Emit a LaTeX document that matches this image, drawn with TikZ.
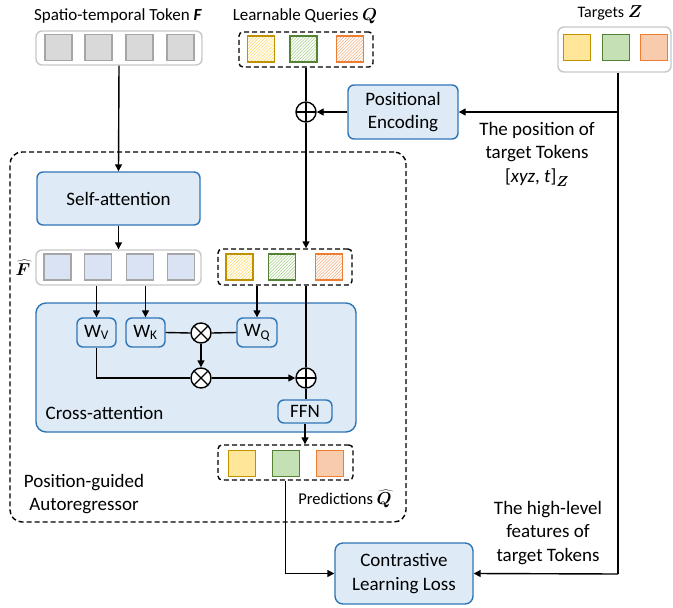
\documentclass[tikz,border=0pt]{standalone}
\usepackage{fontspec}
\setmainfont{Carlito}
\usepackage{bm}
\usetikzlibrary{arrows.meta,patterns.meta}

\definecolor{bdark}{RGB}{46,117,182}
\definecolor{blight}{RGB}{222,235,247}
\definecolor{hold}{RGB}{200,200,200}
\definecolor{tgray}{RGB}{166,166,166}
\definecolor{tfill}{RGB}{217,217,217}
\definecolor{tblue}{RGB}{218,227,243}
\definecolor{ydark}{RGB}{191,144,0}
\definecolor{ylight}{RGB}{255,230,153}
\definecolor{yhatch}{RGB}{255,217,102}
\definecolor{gdark}{RGB}{84,130,53}
\definecolor{glight}{RGB}{197,224,180}
\definecolor{ghatch}{RGB}{169,209,142}
\definecolor{odark}{RGB}{237,125,49}
\definecolor{olight}{RGB}{248,203,173}
\definecolor{ohatch}{RGB}{244,177,131}

\begin{document}
\begin{tikzpicture}[x=1pt,y=-1pt,line width=1.4pt,
  big/.style={font=\fontsize{19}{23.5}\selectfont},
  txt/.style={big, inner sep=0pt, align=center},
  toplbl/.style={font=\fontsize{17}{21}\selectfont, inner sep=0pt},
  bluebox/.style={draw=bdark, fill=blight, rounded corners=6pt, align=center,
    big, inner sep=0pt},
  holder/.style={draw=hold, fill=white, rounded corners=6pt, inner sep=0pt},
  dbox/.style={draw=black, dash pattern=on 5pt off 3pt, rounded corners=4pt, inner sep=0pt},
  tok/.style={minimum width=27pt, minimum height=26pt, inner sep=0pt},
  gtok/.style={tok, draw=tgray, fill=tfill},
  btok/.style={tok, draw=tgray, fill=tblue},
  ytok/.style={tok, draw=ydark, fill=ylight},
  gntok/.style={tok, draw=gdark, fill=glight},
  otok/.style={tok, draw=odark, fill=olight},
  hatch/.style={pattern={Lines[angle=45,distance=2.2pt,line width=0.6pt]}, pattern color=#1},
  yhtok/.style={tok, draw=ydark, hatch=yhatch},
  ghtok/.style={tok, draw=gdark, hatch=ghatch},
  ohtok/.style={tok, draw=odark, hatch=ohatch},
  arr/.style={-{Triangle[length=7pt,width=7pt]}},
  op/.style={circle, draw, fill=white, minimum size=20pt, inner sep=0pt},
  plusop/.style={op, path picture={
    \draw (path picture bounding box.north) -- (path picture bounding box.south);
    \draw (path picture bounding box.west) -- (path picture bounding box.east);}},
  timesop/.style={op, path picture={
    \draw ([shift={(45:10pt)}]path picture bounding box.center) -- ([shift={(225:10pt)}]path picture bounding box.center);
    \draw ([shift={(135:10pt)}]path picture bounding box.center) -- ([shift={(315:10pt)}]path picture bounding box.center);}}
]
\useasboundingbox (0,0) rectangle (673,608);

% ---- outer autoregressor frame ----
\node[dbox, rounded corners=12pt, minimum width=396pt, minimum height=370pt] (pga) at (208,337) {};

% ---- input tokens F ----
\node[toplbl] (flab) at (118,16) {Spatio-temporal Token \textbf{\textit{F}}};
\node[holder, minimum width=166pt, minimum height=34pt] (fbox) at (119,48) {};
\node[gtok] (f1) at (58.5,47.5) {};
\node[gtok] (f2) at (98.5,47.5) {};
\node[gtok] (f3) at (139.5,47.5) {};
\node[gtok] (f4) at (180.5,47.5) {};

% ---- learnable queries Q ----
\node[toplbl] (qlab) at (305,16) {Learnable Queries $\bm{Q}$};
\node[dbox, minimum width=134pt, minimum height=35pt] (qbox) at (306,49.5) {};
\node[yhtok] (q1) at (261,49) {};
\node[ghtok] (q2) at (303.5,49) {};
\node[ohtok] (q3) at (350,49) {};

% ---- targets Z ----
\node[toplbl, font=\fontsize{16}{19}\selectfont] (zlab) at (610,13) {Targets $\bm{Z}$};
\node[holder, minimum width=113pt, minimum height=45pt] (zbox) at (614.5,49.5) {};
\node[ytok] (z1) at (577,47.5) {};
\node[gntok] (z2) at (616,47.5) {};
\node[otok] (z3) at (654,47.5) {};
\coordinate (zr) at (618,574);

% ---- positional encoding ----
\node[plusop] (p1) at (306,112) {};
\node[bluebox, minimum width=110pt, minimum height=54pt] (pe) at (403,112) {Positional\\Encoding};
\node[txt] (poslab) at (537,154) {The position of\\target Tokens\\{}[\textit{xyz}, \textit{t}]$_{\bm{Z}}$};

% ---- self-attention ----
\node[bluebox, minimum width=163pt, minimum height=53pt] (sa) at (118.5,198.5) {Self-attention};

% ---- F hat tokens ----
\node[toplbl] (fhlab) at (23,268) {$\widehat{\bm{F}}$};
\node[holder, minimum width=165pt, minimum height=35pt] (fhbox) at (118.5,267.5) {};
\node[btok] (fh1) at (57.5,267) {};
\node[btok] (fh2) at (98,267) {};
\node[btok] (fh3) at (140,267) {};
\node[btok] (fh4) at (181,267) {};

% ---- queries after positional encoding ----
\node[dbox, minimum width=134pt, minimum height=36pt] (q2box) at (285,267) {};
\node[yhtok] (qq1) at (239.5,267) {};
\node[ghtok] (qq2) at (282,267) {};
\node[ohtok] (qq3) at (329,267) {};

% ---- cross-attention block ----
\node[bluebox, rounded corners=10pt, minimum width=320pt, minimum height=129pt] (ca) at (196,367.5) {};
\node[txt, anchor=west] (calab) at (45,413) {Cross-attention};
\node[bluebox, minimum width=39pt, minimum height=29pt] (wv) at (96.5,332.5) {W\textsubscript{V}};
\node[bluebox, minimum width=39pt, minimum height=29pt] (wk) at (145.5,332.5) {W\textsubscript{K}};
\node[bluebox, minimum width=40pt, minimum height=29pt] (wq) at (257,332.5) {W\textsubscript{Q}};
\node[timesop] (m1) at (201,333) {};
\node[timesop] (m2) at (201,378) {};
\node[plusop] (p2) at (306,378) {};
\node[bluebox, minimum width=54pt, minimum height=23pt] (ffn) at (305,411.5) {FFN};

% ---- predictions ----
\node[dbox, minimum width=135pt, minimum height=35pt] (pbox) at (285.5,462.5) {};
\node[ytok] (pr1) at (242,463.5) {};
\node[gntok] (pr2) at (286,463.5) {};
\node[otok] (pr3) at (330,463.5) {};
\node[txt, font=\fontsize{16.5}{20}\selectfont] (prlab) at (345,499) {Predictions $\widehat{\bm{Q}}$};
\node[txt] (pgalab) at (84,494) {Position-guided\\Autoregressor};

% ---- loss ----
\node[bluebox, rounded corners=8pt, minimum width=138pt, minimum height=61pt] (cl) at (404,573.5) {Contrastive\\Learning Loss};
\node[txt] (hllab) at (548,533) {The high-level\\features of\\target Tokens};

% ---- connectors ----
\draw[arr] (fbox.south) -- (sa.north);
\draw (qbox.south) -- (p1.north);
\draw[arr] (p1.south) -- (p1.south |- q2box.north);
\draw (zbox.south -| zr) -- (zr);
\draw[arr] (zr) -- (cl.east);
\draw[arr] (pe.east -| zr) -- (pe.east);
\draw[arr] (pe.west) -- (p1.east);
\draw[arr] (sa.south) -- (sa.south |- fhbox.north);
\draw[arr] (wv.north |- fhbox.south) -- (wv.north);
\draw[arr] (wk.north |- fhbox.south) -- (wk.north);
\draw[arr] (wq.north |- q2box.south) -- (wq.north);
\draw (p2.north |- q2box.south) -- (p2.north);
\draw (wk.east) -- (m1.west);
\draw (m1.east) -- (wq.west);
\draw[arr] (m1.south) -- (m2.north);
\draw (wv.south) |- (m2.west);
\draw[arr] (m2.east) -- (p2.west);
\draw (p2.south) -- (p2.south |- ffn.north);
\draw[arr] (ffn.south) -- (ffn.south |- pbox.north);
\draw[arr] (pbox.south) |- (cl.west);
\end{tikzpicture}
\end{document}
